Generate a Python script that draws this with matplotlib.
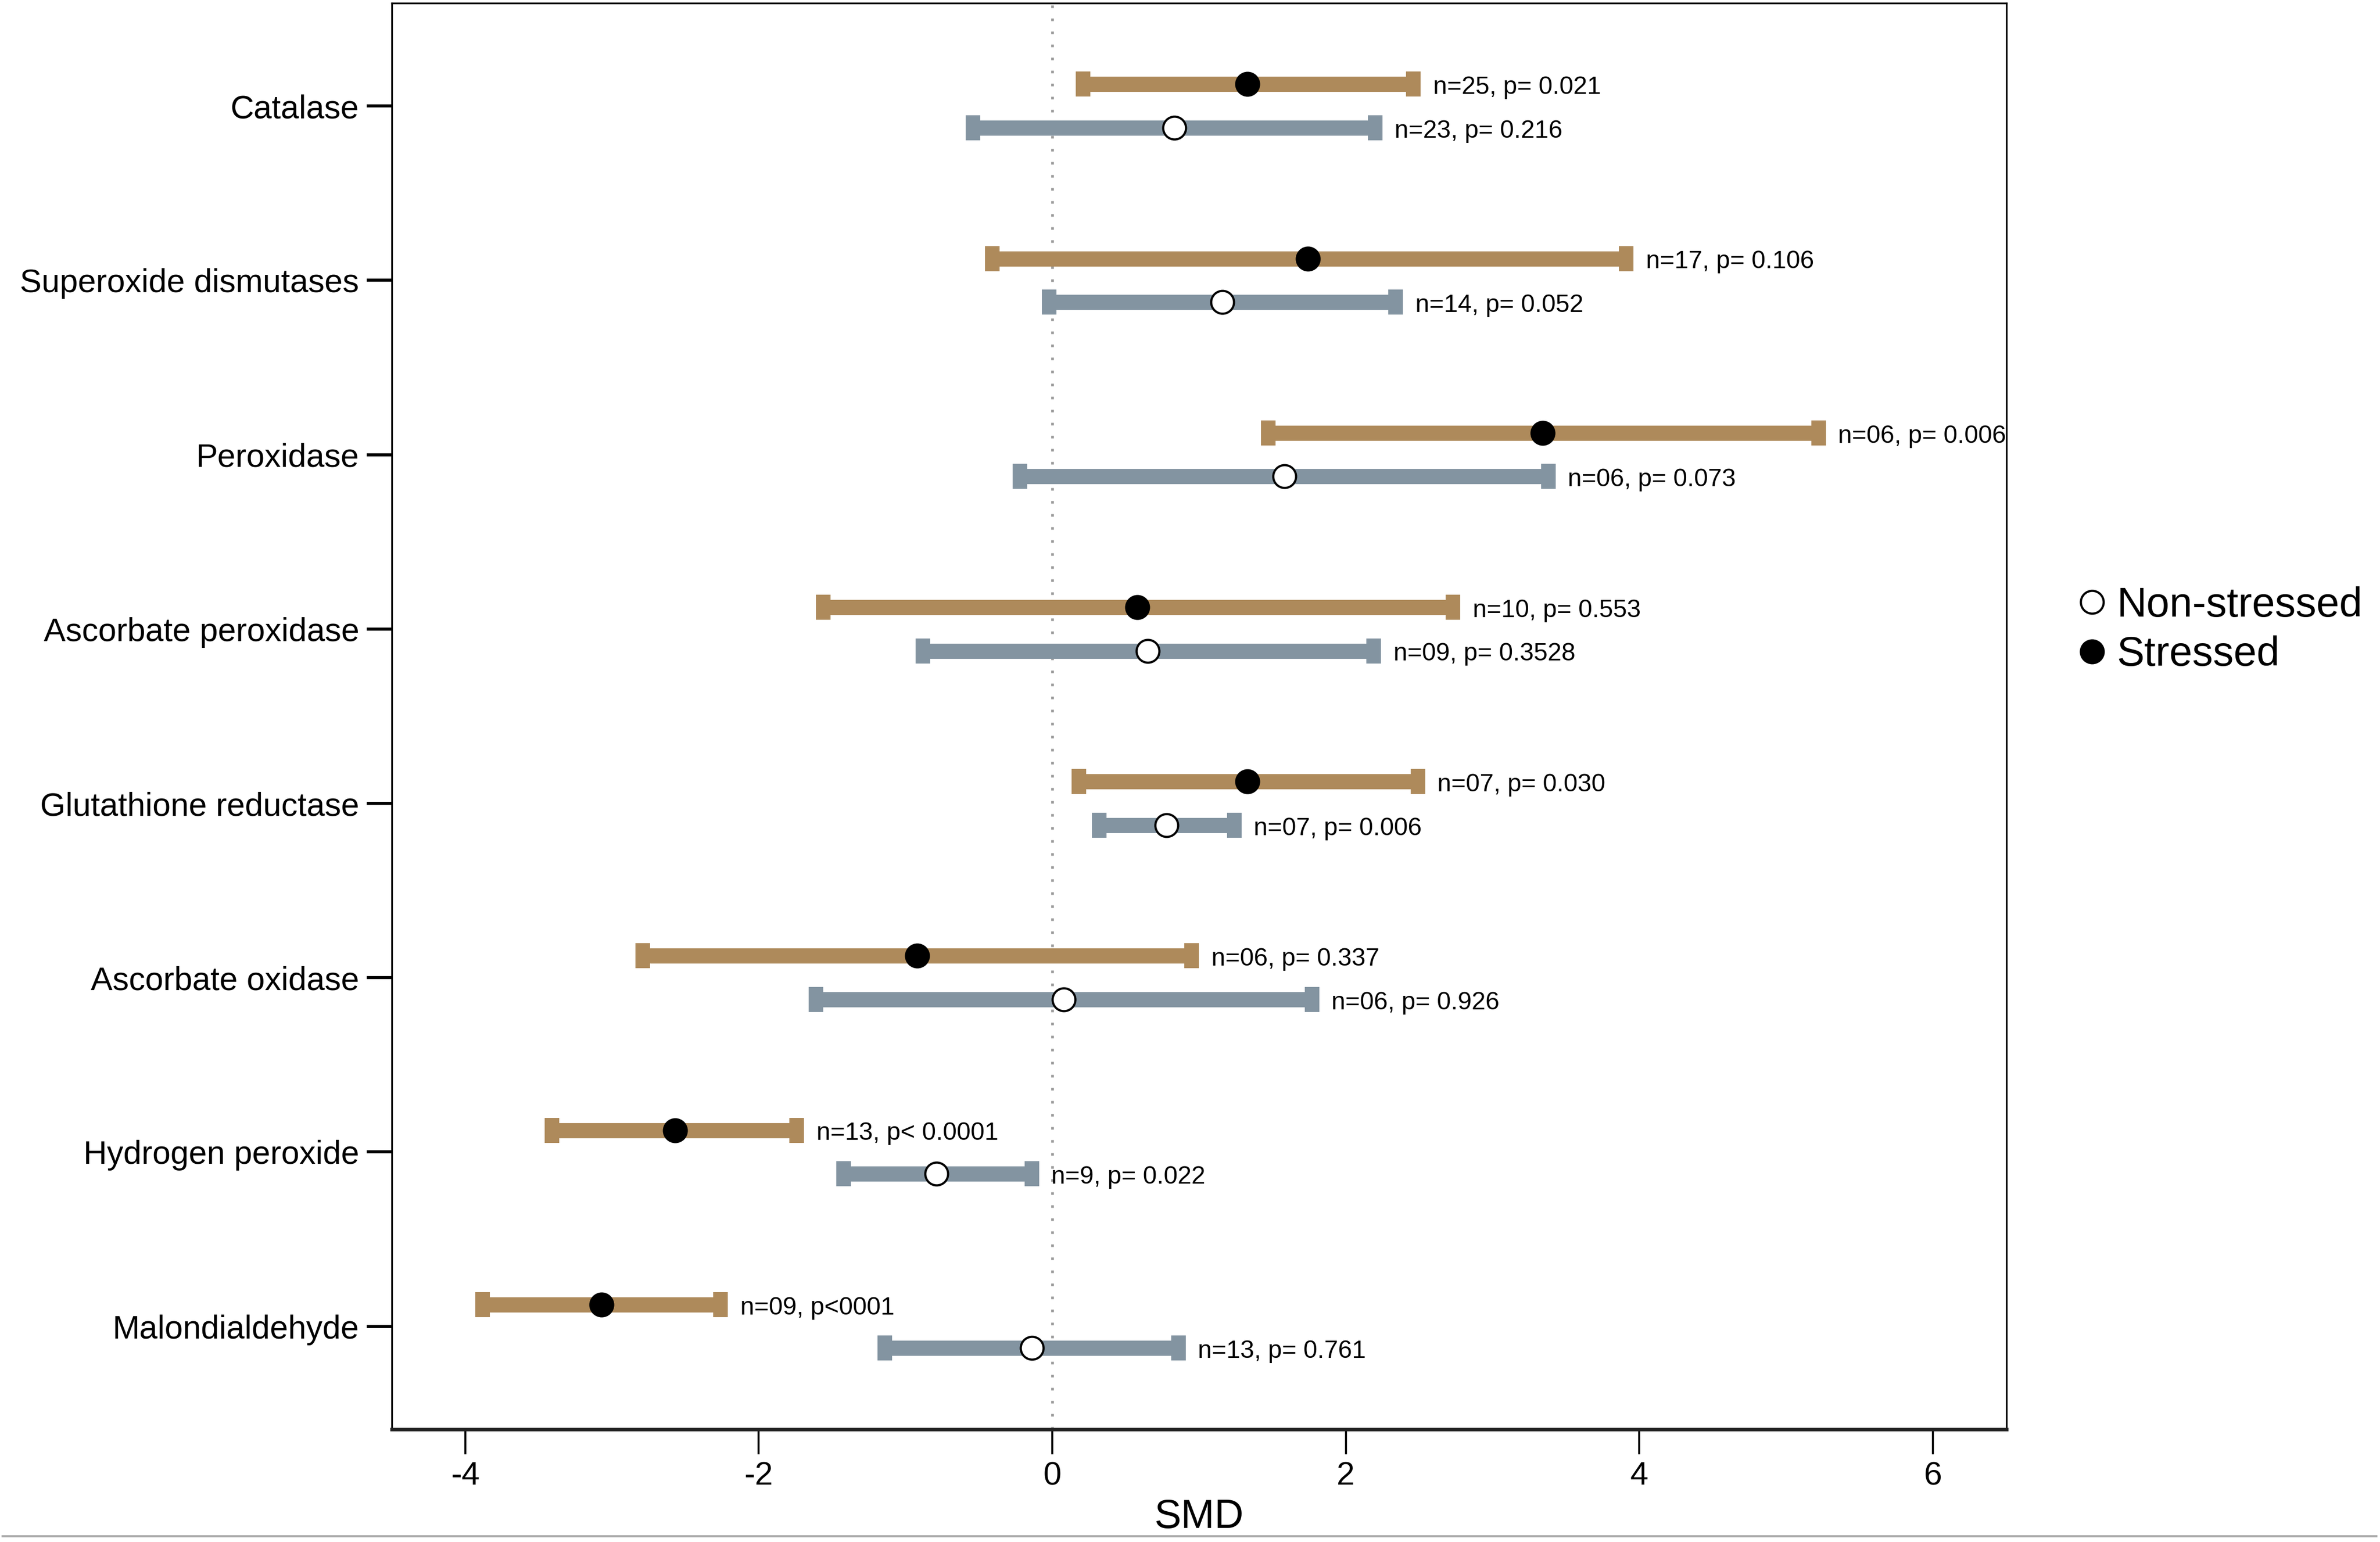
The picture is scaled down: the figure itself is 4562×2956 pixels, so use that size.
"""
Forest plot of antioxidant enzymes / oxidative markers: SMD with 95% CI,
stressed vs non-stressed plants.
"""
import matplotlib as mpl
import matplotlib.pyplot as plt
from matplotlib.lines import Line2D

# --------------------------------------------------------------------------
# Data
# --------------------------------------------------------------------------
CATEGORIES = ["Catalase", "Superoxide dismutases", "Peroxidase",
              "Ascorbate peroxidase", "Glutathione reductase",
              "Ascorbate oxidase", "Hydrogen peroxide", "Malondialdehyde"]

STRESS_SMD = [1.33, 1.74, 3.34, 0.58, 1.33, -0.92, -2.57, -3.07]
STRESS_LO = [0.21, -0.41, 1.47, -1.56, 0.18, -2.79, -3.41, -3.88]
STRESS_HI = [2.46, 3.91, 5.22, 2.73, 2.49, 0.95, -1.74, -2.26]
STRESS_TXT = ["n=25, p= 0.021", "n=17, p= 0.106", "n=06, p= 0.006",
              "n=10, p= 0.553", "n=07, p= 0.030", "n=06, p= 0.337",
              "n=13, p< 0.0001", "n=09, p<0001"]

NONST_SMD = [0.83, 1.16, 1.58, 0.65, 0.78, 0.08, -0.79, -0.14]
NONST_LO = [-0.54, -0.02, -0.22, -0.88, 0.32, -1.61, -1.42, -1.14]
NONST_HI = [2.20, 2.34, 3.38, 2.19, 1.24, 1.77, -0.14, 0.86]
NONST_TXT = ["n=23, p= 0.216", "n=14, p= 0.052", "n=06, p= 0.073",
             "n=09, p= 0.3528", "n=07, p= 0.006", "n=06, p= 0.926",
             "n=9, p= 0.022", "n=13, p= 0.761"]

XTICKS = [-4, -2, 0, 2, 4, 6]

# --------------------------------------------------------------------------
# Style
# --------------------------------------------------------------------------
TAN = "#AE8A5B"
SLATE = "#8394A1"
ZEROCOL = "#9A9A9A"

mpl.rcParams.update({
    "font.family": ["Liberation Sans", "DejaVu Sans"],
    "text.color": "black",
})

fig = plt.figure(figsize=(4562 / 300, 2956 / 300), dpi=300)
ax = fig.add_axes([0.1646, 0.0731, 0.843 - 0.1646, 0.998 - 0.0731])

n = len(CATEGORIES)
ypos = [n - i for i in range(n)]
OFF = 0.125


def draw_series(smd, lo, hi, labels, dy, color, face):
    for y, m_, a, b, lab in zip(ypos, smd, lo, hi, labels):
        yy = y + dy
        ax.errorbar(m_, yy, xerr=[[m_ - a], [b - m_]], fmt="none",
                    ecolor=color, elinewidth=7.0, capsize=5.8, capthick=6.7,
                    zorder=3)
        ax.plot(m_, yy, marker="o", markersize=10.5, markerfacecolor=face,
                markeredgecolor="black", markeredgewidth=1.0, linestyle="none",
                zorder=5)
        ax.annotate(lab, (b, yy), xytext=(9, -1.5), textcoords="offset points",
                    ha="left", va="center", fontsize=11.5, zorder=6)


draw_series(STRESS_SMD, STRESS_LO, STRESS_HI, STRESS_TXT, OFF, TAN, "black")
draw_series(NONST_SMD, NONST_LO, NONST_HI, NONST_TXT, -OFF, SLATE, "white")

ax.axvline(0, color=ZEROCOL, linewidth=1.2, linestyle=(0, (1, 4)), zorder=1)

ax.set_xlim(-4.5, 6.5)
ax.set_ylim(0.41, 8.59)
ax.set_xticks(XTICKS)
ax.set_xticklabels([str(t) for t in XTICKS])
ax.set_yticks(ypos)
ax.set_yticklabels(CATEGORIES)

ax.tick_params(axis="y", direction="out", length=11.5, width=1.4,
               labelsize=15, pad=3.5)
ax.tick_params(axis="x", direction="out", length=11.5, width=0.9,
               labelsize=15, pad=3)
ax.set_xlabel("SMD", fontsize=18.5, labelpad=3)

for side in ("left", "top", "right"):
    ax.spines[side].set_linewidth(0.8)
ax.spines["bottom"].set_linewidth(1.6)
ax.spines["bottom"].set_color("#222222")

handles = [
    Line2D([0], [0], marker="o", linestyle="none", markersize=10.5,
           markerfacecolor="white", markeredgecolor="black",
           markeredgewidth=1.0, label="Non-stressed"),
    Line2D([0], [0], marker="o", linestyle="none", markersize=10.5,
           markerfacecolor="black", markeredgecolor="black",
           markeredgewidth=1.0, label="Stressed"),
]
fig.legend(handles=handles, loc="center left", bbox_to_anchor=(0.8737, 0.5912),
           frameon=False, fontsize=19, handlelength=0.6, handletextpad=0.3,
           labelspacing=0.25, borderpad=0, borderaxespad=0)

# thin grey rule along the bottom edge of the figure
fig.add_artist(Line2D([0.001, 0.9985], [0.0037, 0.0037], color="#AAAAAA",
                      linewidth=1.0, transform=fig.transFigure))

fig.savefig("out.png", dpi=300)
